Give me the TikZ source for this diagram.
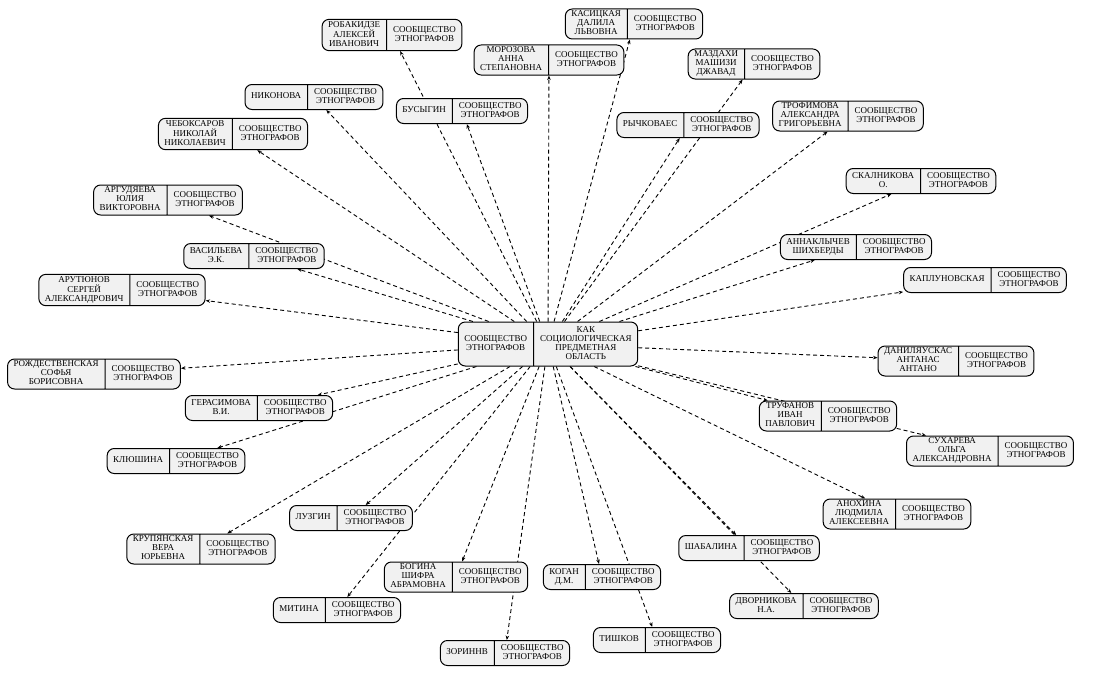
\documentclass[tikz,border=0pt]{standalone}
\usepackage{fontspec}
\setmainfont{Liberation Serif}
\usetikzlibrary{shapes.multipart, arrows.meta, backgrounds}
\definecolor{light}{RGB}{241,241,241}
% one centred cell of a record, at least as tall as two lines
\newcommand{\cell}[1]{$\vcenter{\hrule height 22pt width 0pt}$\begin{tabular}{@{}c@{}}#1\end{tabular}}

\begin{document}
\begin{tikzpicture}[x=1pt, y=-1pt,
  rec/.style={draw, line width=1pt, fill=light, rounded corners=7pt,
              rectangle split, rectangle split horizontal, rectangle split parts=2,
              inner xsep=6pt, inner ysep=1.5pt,
              font=\fontsize{9}{9}\selectfont},
  arr/.style={-{Stealth[length=4.5pt, width=3.5pt]}, dash pattern=on 4pt off 3pt,
              line width=0.9pt}
]
\useasboundingbox (0,0) rectangle (1097,677);

%% Central node
\node[rec, inner ysep=4pt] (core) at (548,344) {\cell{СООБЩЕСТВО\\ЭТНОГРАФОВ} \nodepart{two} \cell{КАК\\СОЦИОЛОГИЧЕСКАЯ\\ПРЕДМЕТНАЯ\\ОБЛАСТЬ}};

%% Upper nodes
\node[rec] (rob)  at (392, 35) {\cell{РОБАКИДЗЕ\\АЛЕКСЕЙ\\ИВАНОВИЧ} \nodepart{two} \cell{СООБЩЕСТВО\\ЭТНОГРАФОВ}};
\node[rec] (kas)  at (634, 24) {\cell{КАСИЦКАЯ\\ДАЛИЛА\\ЛЬВОВНА} \nodepart{two} \cell{СООБЩЕСТВО\\ЭТНОГРАФОВ}};
\node[rec] (mor)  at (549, 60) {\cell{МОРОЗОВА\\АННА\\СТЕПАНОВНА} \nodepart{two} \cell{СООБЩЕСТВО\\ЭТНОГРАФОВ}};
\node[rec] (maz)  at (754, 64) {\cell{МАЗДАХИ\\МАШИЗИ\\ДЖАВАД} \nodepart{two} \cell{СООБЩЕСТВО\\ЭТНОГРАФОВ}};
\node[rec] (nik)  at (314, 97) {\cell{НИКОНОВА} \nodepart{two} \cell{СООБЩЕСТВО\\ЭТНОГРАФОВ}};
\node[rec] (bus)  at (462,111) {\cell{БУСЫГИН} \nodepart{two} \cell{СООБЩЕСТВО\\ЭТНОГРАФОВ}};
\node[rec] (ryc)  at (688,125) {\cell{РЫЧКОВАЕС} \nodepart{two} \cell{СООБЩЕСТВО\\ЭТНОГРАФОВ}};
\node[rec] (tro)  at (848,116) {\cell{ТРОФИМОВА\\АЛЕКСАНДРА\\ГРИГОРЬЕВНА} \nodepart{two} \cell{СООБЩЕСТВО\\ЭТНОГРАФОВ}};

%% Left nodes
\node[rec] (cheb) at (233,134) {\cell{ЧЕБОКСАРОВ\\НИКОЛАЙ\\НИКОЛАЕВИЧ} \nodepart{two} \cell{СООБЩЕСТВО\\ЭТНОГРАФОВ}};
\node[rec] (arg)  at (168,200) {\cell{АРГУДЯЕВА\\ЮЛИЯ\\ВИКТОРОВНА} \nodepart{two} \cell{СООБЩЕСТВО\\ЭТНОГРАФОВ}};
\node[rec] (vas)  at (254,256) {\cell{ВАСИЛЬЕВА\\Э.К.} \nodepart{two} \cell{СООБЩЕСТВО\\ЭТНОГРАФОВ}};
\node[rec] (arut) at (122,290) {\cell{АРУТЮНОВ\\СЕРГЕЙ\\АЛЕКСАНДРОВИЧ} \nodepart{two} \cell{СООБЩЕСТВО\\ЭТНОГРАФОВ}};
\node[rec] (rozh) at ( 94,374) {\cell{РОЖДЕСТВЕНСКАЯ\\СОФЬЯ\\БОРИСОВНА} \nodepart{two} \cell{СООБЩЕСТВО\\ЭТНОГРАФОВ}};
\node[rec] (ger)  at (259,408) {\cell{ГЕРАСИМОВА\\В.И.} \nodepart{two} \cell{СООБЩЕСТВО\\ЭТНОГРАФОВ}};
\node[rec] (klyu) at (176,461) {\cell{КЛЮШИНА} \nodepart{two} \cell{СООБЩЕСТВО\\ЭТНОГРАФОВ}};

%% Right nodes
\node[rec] (skal) at (921,181) {\cell{СКАЛНИКОВА\\О.} \nodepart{two} \cell{СООБЩЕСТВО\\ЭТНОГРАФОВ}};
\node[rec] (ann)  at (856,247) {\cell{АННАКЛЫЧЕВ\\ШИХБЕРДЫ} \nodepart{two} \cell{СООБЩЕСТВО\\ЭТНОГРАФОВ}};
\node[rec] (kapl) at (985,280) {\cell{КАПЛУНОВСКАЯ} \nodepart{two} \cell{СООБЩЕСТВО\\ЭТНОГРАФОВ}};
\node[rec] (dan)  at (956,361) {\cell{ДАНИЛЯУСКАС\\АНТАНАС\\АНТАНО} \nodepart{two} \cell{СООБЩЕСТВО\\ЭТНОГРАФОВ}};
\node[rec] (truf) at (828,416) {\cell{ТРУФАНОВ\\ИВАН\\ПАВЛОВИЧ} \nodepart{two} \cell{СООБЩЕСТВО\\ЭТНОГРАФОВ}};
\node[rec] (such) at (990,451) {\cell{СУХАРЕВА\\ОЛЬГА\\АЛЕКСАНДРОВНА} \nodepart{two} \cell{СООБЩЕСТВО\\ЭТНОГРАФОВ}};
\node[rec] (anokh) at (897,514) {\cell{АНОХИНА\\ЛЮДМИЛА\\АЛЕКСЕЕВНА} \nodepart{two} \cell{СООБЩЕСТВО\\ЭТНОГРАФОВ}};

%% Lower nodes
\node[rec] (luzg) at (351,518) {\cell{ЛУЗГИН} \nodepart{two} \cell{СООБЩЕСТВО\\ЭТНОГРАФОВ}};
\node[rec] (krup) at (201,549) {\cell{КРУПЯНСКАЯ\\ВЕРА\\ЮРЬЕВНА} \nodepart{two} \cell{СООБЩЕСТВО\\ЭТНОГРАФОВ}};
\node[rec] (shab) at (749,548) {\cell{ШАБАЛИНА} \nodepart{two} \cell{СООБЩЕСТВО\\ЭТНОГРАФОВ}};
\node[rec] (bog)  at (456,577) {\cell{БОГИНА\\ШИФРА\\АБРАМОВНА} \nodepart{two} \cell{СООБЩЕСТВО\\ЭТНОГРАФОВ}};
\node[rec] (kog)  at (602,577) {\cell{КОГАН\\Д.М.} \nodepart{two} \cell{СООБЩЕСТВО\\ЭТНОГРАФОВ}};
\node[rec] (mit)  at (337,610) {\cell{МИТИНА} \nodepart{two} \cell{СООБЩЕСТВО\\ЭТНОГРАФОВ}};
\node[rec] (dvor) at (804,606) {\cell{ДВОРНИКОВА\\Н.А.} \nodepart{two} \cell{СООБЩЕСТВО\\ЭТНОГРАФОВ}};
\node[rec] (zor)  at (505,653) {\cell{ЗОРИННВ} \nodepart{two} \cell{СООБЩЕСТВО\\ЭТНОГРАФОВ}};
\node[rec] (tish) at (657,640) {\cell{ТИШКОВ} \nodepart{two} \cell{СООБЩЕСТВО\\ЭТНОГРАФОВ}};

%% Arrows (behind the nodes)
\begin{scope}[on background layer]
\draw[arr] (core) -- (rob);
\draw[arr] (core) -- (kas);
\draw[arr] (core) -- (mor);
\draw[arr] (core) -- (maz);
\draw[arr] (core) -- (nik);
\draw[arr] (core) -- (bus);
\draw[arr] (core) -- (ryc);
\draw[arr] (core) -- (tro);
\draw[arr] (core) -- (cheb);
\draw[arr] (core) -- (arg);
\draw[arr] (core) -- (vas);
\draw[arr] (core) -- (arut);
\draw[arr] (core) -- (rozh);
\draw[arr] (core) -- (ger);
\draw[arr] (core) -- (klyu);
\draw[arr] (core) -- (skal);
\draw[arr] (core) -- (ann);
\draw[arr] (core) -- (kapl);
\draw[arr] (core) -- (dan);
\draw[arr] (core) -- (truf);
\draw[arr] (core) -- (such);
\draw[arr] (core) -- (anokh);
\draw[arr] (core) -- (luzg);
\draw[arr] (core) -- (krup);
\draw[arr] (core) -- (shab);
\draw[arr] (core) -- (bog);
\draw[arr] (core) -- (kog);
\draw[arr] (core) -- (mit);
\draw[arr] (core) -- (dvor);
\draw[arr] (core) -- (zor);
\draw[arr] (core) -- (tish);
\end{scope}

\end{tikzpicture}
\end{document}
